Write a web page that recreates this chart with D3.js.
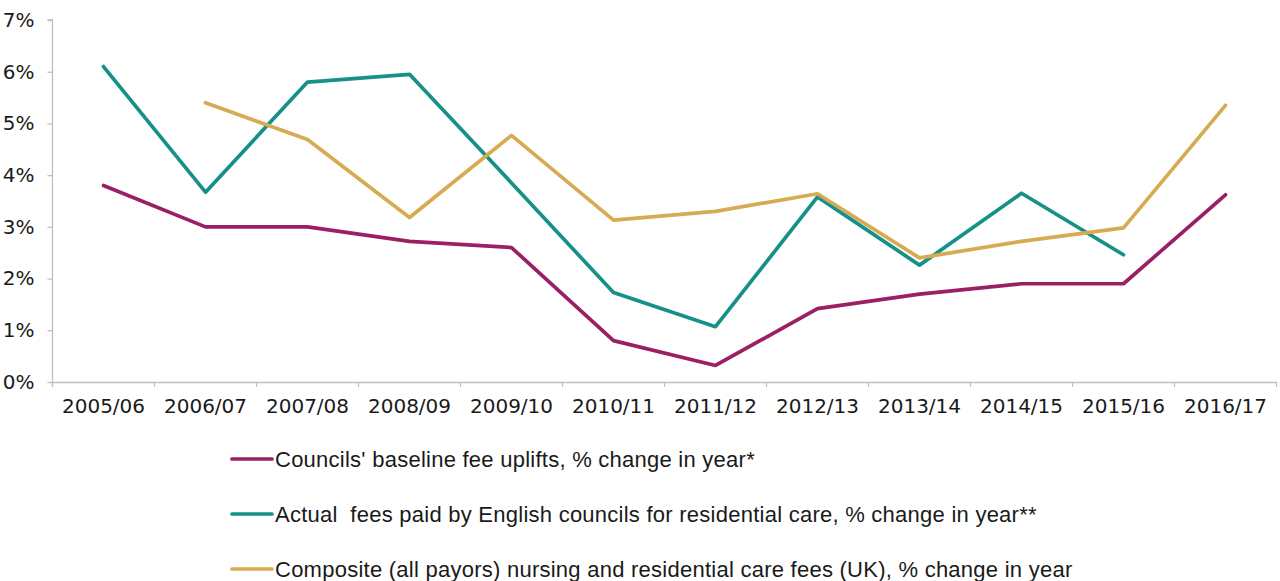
<!DOCTYPE html>
<html>
<head>
<meta charset="utf-8">
<script src="https://cdn.jsdelivr.net/npm/d3@7"></script>
<style>
  body { margin: 0; background: #fff; }
  svg { display: block; }
</style>
</head>
<body>
<div id="chart"></div>
<script>
const years = ["2005/06", "2006/07", "2007/08", "2008/09", "2009/10", "2010/11",
               "2011/12", "2012/13", "2013/14", "2014/15", "2015/16", "2016/17"];
const councilUplifts = [3.8, 3.0, 3.0, 2.72, 2.6, 0.8, 0.32, 1.42, 1.7, 1.9, 1.9, 3.62];
const actualFees = [6.1, 3.67, 5.8, 5.95, 3.85, 1.73, 1.07, 3.58, 2.26, 3.65, 2.46, null];
const compositeFees = [null, 5.4, 4.69, 3.18, 4.77, 3.13, 3.3, 3.64, 2.4, 2.72, 2.98, 5.35];
const yTicks = [0, 1, 2, 3, 4, 5, 6, 7];
const seriesNames = [
  "Councils' baseline fee uplifts, % change in year*",
  "Actual  fees paid by English councils for residential care, % change in year**",
  "Composite (all payors) nursing and residential care fees (UK), % change in year"
];
const seriesColors = ["#9b1f63", "#16918a", "#d6ab52"];
const seriesValues = [councilUplifts, actualFees, compositeFees];

const width = 1280, height = 581;
const margin = {top: 20, right: 3.5, bottom: 199, left: 52.5};
const axisColor = "#bfbfbf";

const svg = d3.select("#chart")
  .append("svg")
  .attr("width", width)
  .attr("height", height);

let x = d3.scaleBand()
  .domain(years)
  .range([margin.left, width - margin.right])
  .padding(0);

let y = d3.scaleLinear()
  .domain([0, 7])
  .range([height - margin.bottom, margin.top]);

// y axis
let yAxis = svg.append("g")
  .attr("transform", `translate(${margin.left},0)`)
  .call(d3.axisLeft(y).tickValues(yTicks).tickSize(5).tickPadding(13)
    .tickFormat(d => d + "%"));
yAxis.select(".domain").attr("stroke", axisColor).attr("stroke-width", 1.3)
  .attr("d", `M-5,${y(7)}H0V${y(0) + 5}`);
yAxis.selectAll(".tick line").attr("stroke", axisColor).attr("stroke-width", 1.3);
yAxis.selectAll("text")
  .style("font-family", "DejaVu Sans")
  .style("font-size", "20px")
  .attr("fill", "#1a1a1a");

// x axis
let xAxis = svg.append("g")
  .attr("transform", `translate(0,${y(0)})`)
  .call(d3.axisBottom(x).tickSize(0).tickPadding(17));
xAxis.select(".domain").attr("stroke", axisColor).attr("stroke-width", 1.3);
xAxis.selectAll("text")
  .style("font-family", "DejaVu Sans")
  .style("font-size", "20px")
  .attr("fill", "#1a1a1a");

let boundaries = years.map(d => x(d)).concat([x.range()[1]]);
xAxis.selectAll(".bound")
  .data(boundaries)
  .enter()
  .append("line")
  .attr("class", "bound")
  .attr("x1", d => d).attr("x2", d => d)
  .attr("y1", 0).attr("y2", 5)
  .attr("stroke", axisColor)
  .attr("stroke-width", 1.3);

// lines
let line = d3.line()
  .defined(d => d.v !== null)
  .x(d => x(d.year) + x.bandwidth() / 2)
  .y(d => y(d.v));

seriesValues.forEach(function(vals, i) {
  let pts = years.map((yr, j) => ({year: yr, v: vals[j]}));
  svg.append("path")
    .datum(pts)
    .attr("fill", "none")
    .attr("stroke", seriesColors[i])
    .attr("stroke-width", 3.7)
    .attr("stroke-linejoin", "round")
    .attr("stroke-linecap", "round")
    .attr("d", line);
});

// legend
const legendY = [459, 514, 569];
let legend = svg.append("g");
seriesNames.forEach(function(name, i) {
  legend.append("line")
    .attr("x1", 232).attr("x2", 272)
    .attr("y1", legendY[i]).attr("y2", legendY[i])
    .attr("stroke", seriesColors[i])
    .attr("stroke-width", 3.7)
    .attr("stroke-linecap", "round");
  legend.append("text")
    .attr("x", 275)
    .attr("y", legendY[i])
    .attr("dy", "0.36em")
    .style("font-family", "Liberation Sans")
    .style("font-size", "22px")
    .style("letter-spacing", "0.25px")
    .attr("fill", "#1a1a1a")
    .style("white-space", "pre")
    .text(name);
});
</script>
</body>
</html>
